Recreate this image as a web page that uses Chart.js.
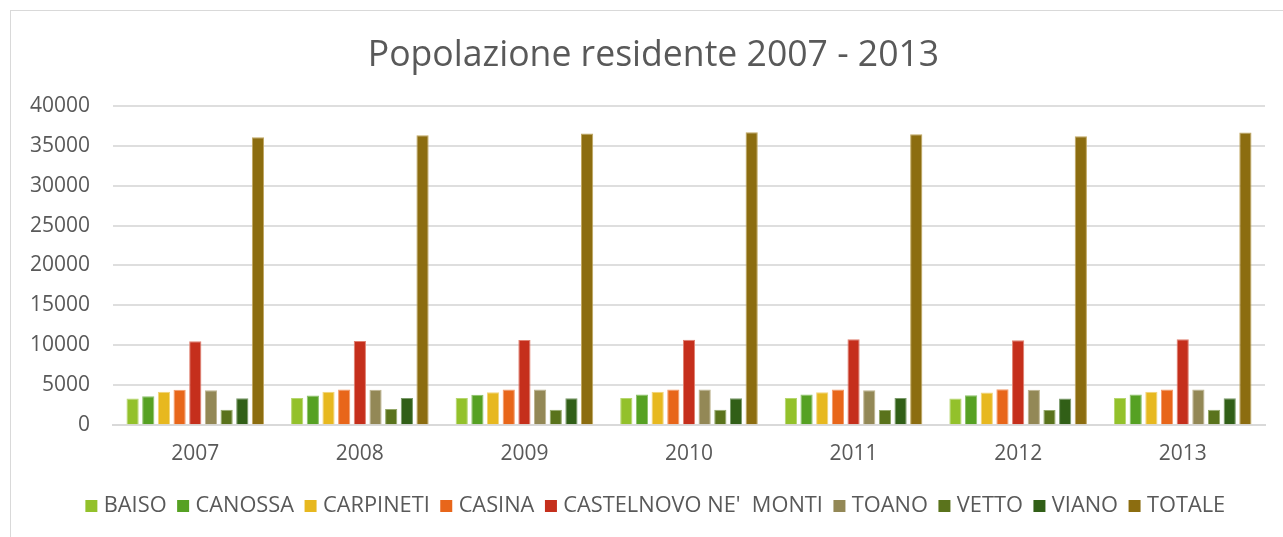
<!DOCTYPE html>
<html>
<head>
<meta charset="utf-8">
<script src="https://cdn.jsdelivr.net/npm/chart.js@4.4.1/dist/chart.umd.min.js"></script>
<style>
  html, body { margin: 0; padding: 0; background: #ffffff; }
  #wrap { position: relative; width: 1283px; height: 537px; overflow: hidden; }
  #frame { position: absolute; left: 10px; top: 10px; width: 1300px; height: 560px; border: 1px solid #d9d9d9; box-sizing: border-box; }
  canvas { position: absolute; left: 0; top: 0; }
</style>
</head>
<body>
<div id="wrap">
  <div id="frame"></div>
  <canvas id="c" width="1283" height="537"></canvas>
</div>
<script>
const years = ['2007', '2008', '2009', '2010', '2011', '2012', '2013'];
const seriesNames = ['BAISO', 'CANOSSA', 'CARPINETI', 'CASINA', "CASTELNOVO NE'  MONTI", 'TOANO', 'VETTO', 'VIANO', 'TOTALE'];
const baiso      = [3330, 3420, 3420, 3420, 3420, 3330, 3420];
const canossa    = [3620, 3710, 3800, 3830, 3830, 3750, 3830];
const carpineti  = [4180, 4180, 4130, 4180, 4130, 4090, 4180];
const casina     = [4430, 4470, 4470, 4470, 4470, 4500, 4470];
const castelnovo = [10510, 10540, 10670, 10710, 10760, 10630, 10760];
const toano      = [4380, 4430, 4470, 4470, 4380, 4430, 4470];
const vetto      = [1940, 2020, 1940, 1940, 1900, 1900, 1940];
const viano      = [3370, 3420, 3370, 3370, 3420, 3330, 3370];
const totale     = [36060, 36310, 36520, 36690, 36440, 36190, 36640];
const yTicks     = [0, 5000, 10000, 15000, 20000, 25000, 30000, 35000, 40000];

const colors = ['#93C12B', '#56A123', '#E7B81F', '#E8661A', '#C52F1C', '#938856', '#5A731C', '#315F17', '#8C6D10'];
const borders = ['#B5D66E', '#8CC16A', '#F2D47A', '#F29A6A', '#E08070', '#BDB38F', '#94A86A', '#7A9A6A', '#C0A760'];
const allValues = [baiso, canossa, carpineti, casina, castelnovo, toano, vetto, viano, totale];

const FONT = "'Open Sans', sans-serif";
const TXT = '#595959';

// legend marker images: a 12px square, offset so that it sits close to its label
function markerFor(color) {
  const cv = document.createElement('canvas');
  cv.width = 24; cv.height = 12;
  const cx = cv.getContext('2d');
  cx.fillStyle = color;
  cx.fillRect(8, 0, 12, 12);
  return cv;
}
const markers = colors.map(markerFor);

const shiftPlugin = {
  id: 'shiftBoxes',
  afterLayout(chart) {
    if (chart.legend) { chart.legend.left += 9; chart.legend.right += 9; }
    if (chart.titleBlock) { chart.titleBlock.left += 7; chart.titleBlock.right += 7; }
  }
};

new Chart(document.getElementById('c'), {
  type: 'bar',
  data: {
    labels: years,
    datasets: seriesNames.map((n, i) => ({
      label: n,
      data: allValues[i],
      backgroundColor: colors[i],
      borderColor: borders[i],
      borderWidth: 1,
      categoryPercentage: 0.857,
      barPercentage: 0.78
    }))
  },
  plugins: [shiftPlugin],
  options: {
    responsive: false,
    animation: false,
    devicePixelRatio: 1,
    layout: { padding: { top: 0, left: 28, right: 18, bottom: 10 } },
    plugins: {
      title: {
        display: true,
        text: 'Popolazione residente 2007 - 2013',
        color: TXT,
        font: { family: FONT, size: 35.6, weight: 'normal' },
        padding: { top: 34, bottom: 29 }
      },
      legend: {
        position: 'bottom',
        labels: {
          color: TXT,
          font: { family: FONT, size: 21.8 },
          usePointStyle: true,
          boxWidth: 7,
          boxHeight: 12,
          padding: 11,
          generateLabels: (chart) => {
            const items = Chart.defaults.plugins.legend.labels.generateLabels(chart);
            items.forEach(it => { it.pointStyle = markers[it.datasetIndex]; });
            return items;
          }
        }
      },
      tooltip: { enabled: false }
    },
    scales: {
      x: {
        grid: { display: false },
        border: { display: true, color: '#d9d9d9', width: 2 },
        ticks: { color: TXT, font: { family: FONT, size: 21 }, padding: 8 },
        afterFit: (s) => { s.height = 59; }
      },
      y: {
        min: 0,
        max: 40000,
        afterBuildTicks: (s) => { s.ticks = yTicks.map(v => ({ value: v })); },
        grid: { color: '#dedede', lineWidth: 2, drawTicks: false },
        border: { display: false },
        ticks: { color: TXT, font: { family: FONT, size: 21 }, padding: 23, callback: (v) => String(v) },
        afterFit: (s) => { s.width = 85; }
      }
    }
  }
});
</script>
</body>
</html>
